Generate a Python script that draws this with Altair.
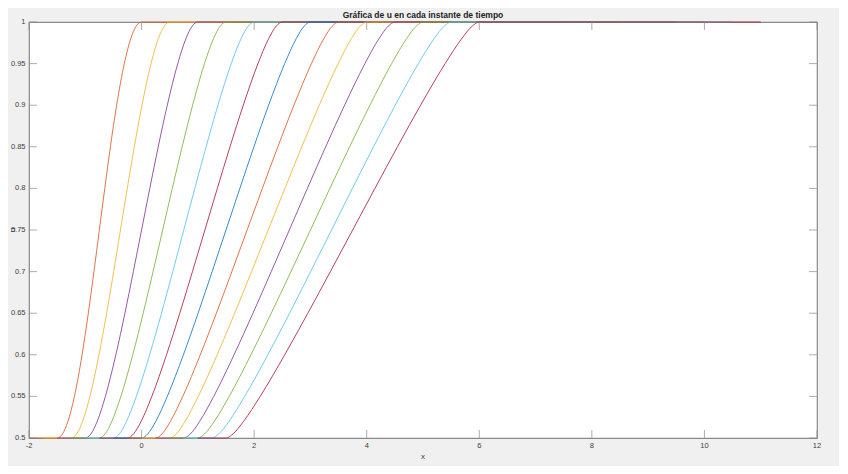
import altair as alt
import pandas as pd

# ---- data ----
U_LEVELS = [0.5, 0.505, 0.52, 0.55, 0.6, 0.65, 0.7, 0.75, 0.8, 0.85, 0.9, 0.95, 0.98, 0.995, 1.0]

CURVE_X = [
    [-1.5, -1.404, -1.308, -1.193, -1.057, -0.946, -0.846, -0.75, -0.654, -0.554, -0.443, -0.307, -0.192, -0.096, 0.0],
    [-1.25, -1.152, -1.048, -0.918, -0.757, -0.621, -0.496, -0.375, -0.254, -0.129, 0.007, 0.168, 0.298, 0.402, 0.5],
    [-1.0, -0.899, -0.788, -0.643, -0.457, -0.296, -0.146, 0.0, 0.146, 0.296, 0.457, 0.643, 0.788, 0.899, 1.0],
    [-0.75, -0.647, -0.528, -0.368, -0.157, 0.029, 0.204, 0.375, 0.546, 0.721, 0.907, 1.118, 1.278, 1.397, 1.5],
    [-0.5, -0.394, -0.268, -0.093, 0.143, 0.354, 0.554, 0.75, 0.946, 1.146, 1.357, 1.593, 1.768, 1.894, 2.0],
    [-0.25, -0.142, -0.008, 0.182, 0.443, 0.679, 0.904, 1.125, 1.346, 1.571, 1.807, 2.068, 2.258, 2.392, 2.5],
    [0.0, 0.111, 0.252, 0.457, 0.743, 1.004, 1.254, 1.5, 1.746, 1.996, 2.257, 2.543, 2.748, 2.889, 3.0],
    [0.25, 0.364, 0.512, 0.732, 1.043, 1.329, 1.604, 1.875, 2.146, 2.421, 2.707, 3.018, 3.238, 3.387, 3.5],
    [0.5, 0.616, 0.772, 1.007, 1.343, 1.654, 1.954, 2.25, 2.546, 2.846, 3.157, 3.493, 3.728, 3.884, 4.0],
    [0.75, 0.869, 1.032, 1.282, 1.643, 1.979, 2.304, 2.625, 2.946, 3.271, 3.607, 3.968, 4.218, 4.382, 4.5],
    [1.0, 1.121, 1.292, 1.557, 1.943, 2.304, 2.654, 3.0, 3.346, 3.696, 4.057, 4.443, 4.708, 4.879, 5.0],
    [1.25, 1.374, 1.552, 1.832, 2.243, 2.629, 3.004, 3.375, 3.746, 4.121, 4.507, 4.918, 5.198, 5.376, 5.5],
    [1.5, 1.626, 1.812, 2.107, 2.543, 2.954, 3.354, 3.75, 4.146, 4.546, 4.957, 5.393, 5.688, 5.874, 6.0],
]

LEFT_START = [-2.0, -1.75, -1.5, -1.25, -1.0, -0.75, -0.5, -0.25, 0.0, 0.25, 0.5, 0.75, 1.0]
RIGHT_END = [5.0, 5.5, 6.0, 6.5, 7.0, 7.5, 8.0, 8.5, 9.0, 9.5, 10.0, 10.5, 11.0]
CURVE_NAMES = ["t%02d" % i for i in range(13)]

X_TICKS = [-2, 0, 2, 4, 6, 8, 10, 12]
X_TICK_LABELS = ["-2", "0", "2", "4", "6", "8", "10", "12"]
Y_TICKS = [0.5, 0.55, 0.6, 0.65, 0.7, 0.75, 0.8, 0.85, 0.9, 0.95, 1.0]
Y_TICK_LABELS = ["0.5", "0.55", "0.6", "0.65", "0.7", "0.75", "0.8", "0.85", "0.9", "0.95", "1"]

TITLE = "Gráfica de u en cada instante de tiempo"
X_TITLE = "x"
Y_TITLE = "u"

COLORS = ["#D95319", "#EDB120", "#7E2F8E", "#77AC30", "#4DBEEE", "#A2142F", "#0072BD",
          "#D95319", "#EDB120", "#7E2F8E", "#77AC30", "#4DBEEE", "#A2142F"]

# ---- build tables ----
rows = []
for k, name in enumerate(CURVE_NAMES):
    pts = [(LEFT_START[k], 0.5)] + list(zip(CURVE_X[k], U_LEVELS)) + [(RIGHT_END[k], 1.0)]
    for i, (xv, uv) in enumerate(pts):
        rows.append({"curve": name, "order": i, "x": xv, "u": uv})
df = pd.DataFrame(rows)

xt = pd.DataFrame({"x": X_TICKS, "label": X_TICK_LABELS})
yt = pd.DataFrame({"u": Y_TICKS, "label": Y_TICK_LABELS})

FONT = "Liberation Sans"
GRAY = "#8a8a8a"
TEXT = "#404040"
xscale = alt.Scale(domain=[-2, 12], nice=False, zero=False)
yscale = alt.Scale(domain=[0.5, 1.0], nice=False, zero=False)

lines = alt.Chart(df).mark_line(strokeWidth=1, strokeOpacity=0.8, interpolate="monotone").encode(
    x=alt.X("x:Q", scale=xscale, axis=None),
    y=alt.Y("u:Q", scale=yscale, axis=None),
    color=alt.Color("curve:N", scale=alt.Scale(domain=CURVE_NAMES, range=COLORS), legend=None),
    order="order:Q",
)

tick_style = dict(color=GRAY, thickness=1, size=8)
bottom_ticks = alt.Chart(xt).mark_tick(orient="vertical", yOffset=-4, **tick_style).encode(
    x=alt.X("x:Q", scale=xscale, axis=None), y=alt.YDatum(0.5, axis=None))
top_ticks = alt.Chart(xt).mark_tick(orient="vertical", yOffset=4, **tick_style).encode(
    x=alt.X("x:Q", scale=xscale, axis=None), y=alt.YDatum(1.0, axis=None))
left_ticks = alt.Chart(yt).mark_tick(orient="horizontal", xOffset=4, **tick_style).encode(
    y=alt.Y("u:Q", scale=yscale, axis=None), x=alt.XDatum(-2, axis=None))
right_ticks = alt.Chart(yt).mark_tick(orient="horizontal", xOffset=-4, **tick_style).encode(
    y=alt.Y("u:Q", scale=yscale, axis=None), x=alt.XDatum(12, axis=None))

x_labels = alt.Chart(xt).mark_text(font=FONT, fontSize=7.5, color=TEXT, align="center",
                                   baseline="middle", dy=8).encode(
    x=alt.X("x:Q", scale=xscale, axis=None), y=alt.YDatum(0.5, axis=None), text="label:N")
y_labels = alt.Chart(yt).mark_text(font=FONT, fontSize=7.5, color=TEXT, align="right",
                                   baseline="middle", dx=-3.5).encode(
    y=alt.Y("u:Q", scale=yscale, axis=None), x=alt.XDatum(-2, axis=None), text="label:N")

x_title = alt.Chart(pd.DataFrame({"t": [X_TITLE]})).mark_text(
    font=FONT, fontSize=8, color=TEXT, align="center", baseline="middle", dy=19).encode(
    x=alt.XDatum(5, axis=None), y=alt.YDatum(0.5, axis=None), text="t:N")
y_title = alt.Chart(pd.DataFrame({"t": [Y_TITLE]})).mark_text(
    font=FONT, fontSize=8, color=TEXT, align="center", baseline="middle", angle=270, dy=-16).encode(
    x=alt.XDatum(-2, axis=None), y=alt.YDatum(0.75, axis=None), text="t:N")

chart = alt.layer(lines, bottom_ticks, top_ticks, left_ticks, right_ticks,
                  x_labels, y_labels, x_title, y_title).properties(
    width=788, height=416,
    title=alt.TitleParams(TITLE, font=FONT, fontSize=8.5, fontWeight="bold",
                          color="#222222", anchor="middle", offset=0, dy=1.5),
    background="#F0F0F0",
    padding={"left": 21, "top": 14, "right": 22, "bottom": 28},
    autosize=alt.AutoSizeParams(type="none"),
).configure_view(
    fill="white", stroke=GRAY, strokeWidth=1.2,
)

chart.save("out.html", embed_options={"renderer": "svg", "actions": False})
